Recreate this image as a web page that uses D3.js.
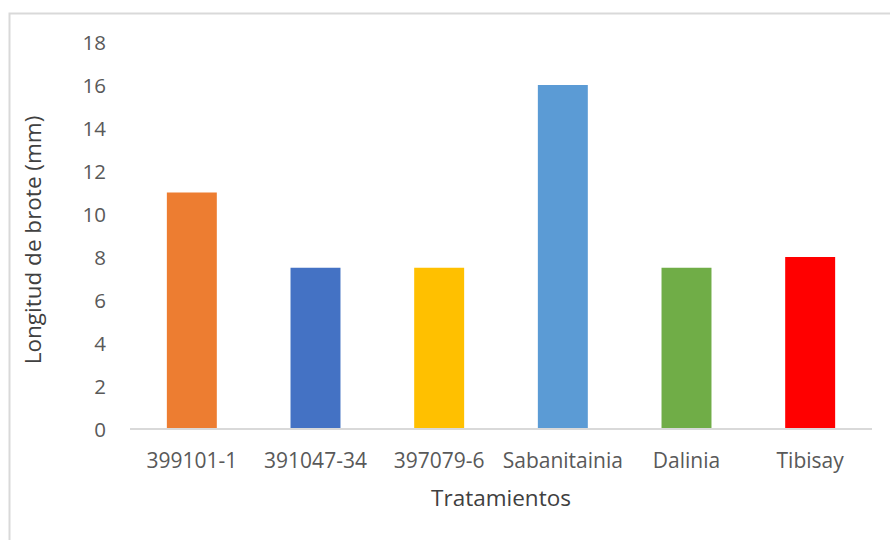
<!DOCTYPE html>
<html>
<head>
<meta charset="utf-8">
<script src="https://cdn.jsdelivr.net/npm/d3@7"></script>
<style>
  html, body { margin: 0; padding: 0; background: #fff; }
  svg { display: block; }
  text { font-family: "Open Sans", "Liberation Sans", sans-serif; }
</style>
</head>
<body>
<svg id="chart" width="890" height="540"></svg>
<script>
// Shoot length per treatment
const categories = ["399101-1", "391047-34", "397079-6", "Sabanitainia", "Dalinia", "Tibisay"];
const values = [11, 7.5, 7.5, 16, 7.5, 8];
const colors = ["#ED7D31", "#4472C4", "#FFC000", "#5B9BD5", "#70AD47", "#FF0000"];
const yTicks = [0, 2, 4, 6, 8, 10, 12, 14, 16, 18];

const svg = d3.select("#chart");
const W = 890, H = 540;
const plot = { left: 130, right: 872, top: 42, bottom: 429 };

// Chart frame (light gray border)
svg.append("rect")
  .attr("x", 9.5).attr("y", 13.5)
  .attr("width", W + 10).attr("height", H + 10)
  .attr("fill", "#fff").attr("stroke", "#D9D9D9").attr("stroke-width", 2);

const x = d3.scaleBand()
  .domain(categories)
  .range([plot.left, plot.right])
  .paddingInner(0.596)
  .paddingOuter(0.298);

const y = d3.scaleLinear()
  .domain([0, 18])
  .range([plot.bottom, plot.top]);

// Bars
svg.append("g").selectAll("rect")
  .data(categories)
  .join("rect")
  .attr("x", d => x(d))
  .attr("y", (d, i) => y(values[i]))
  .attr("width", x.bandwidth())
  .attr("height", (d, i) => y(0) - y(values[i]))
  .attr("fill", (d, i) => colors[i]);

// Y axis (labels only)
const yAxis = svg.append("g")
  .attr("transform", `translate(${106},0)`)
  .call(d3.axisLeft(y).tickValues(yTicks).tickSize(0).tickPadding(0));
yAxis.select(".domain").remove();
yAxis.selectAll("text")
  .attr("fill", "#595959")
  .style("font-size", "20.5px")
  .attr("dy", "0.35em");

// X axis baseline and category labels
const xAxis = svg.append("g")
  .attr("transform", `translate(0,${plot.bottom})`)
  .call(d3.axisBottom(x).tickSize(0).tickPadding(0));
xAxis.select(".domain")
  .attr("stroke", "#D9D9D9").attr("stroke-width", 2)
  .attr("d", `M${plot.left},0H${plot.right}`);
xAxis.selectAll("text")
  .attr("fill", "#595959")
  .style("font-size", "21px")
  .attr("dy", null)
  .attr("y", 39);

// Axis titles
svg.append("text")
  .attr("x", 501).attr("y", 506)
  .attr("text-anchor", "middle")
  .attr("fill", "#404040")
  .style("font-size", "22.5px")
  .text("Tratamientos");

svg.append("text")
  .attr("transform", "translate(41,240) rotate(-90)")
  .attr("text-anchor", "middle")
  .attr("fill", "#404040")
  .style("font-size", "22.5px")
  .text("Longitud de brote (mm)");
</script>
</body>
</html>
